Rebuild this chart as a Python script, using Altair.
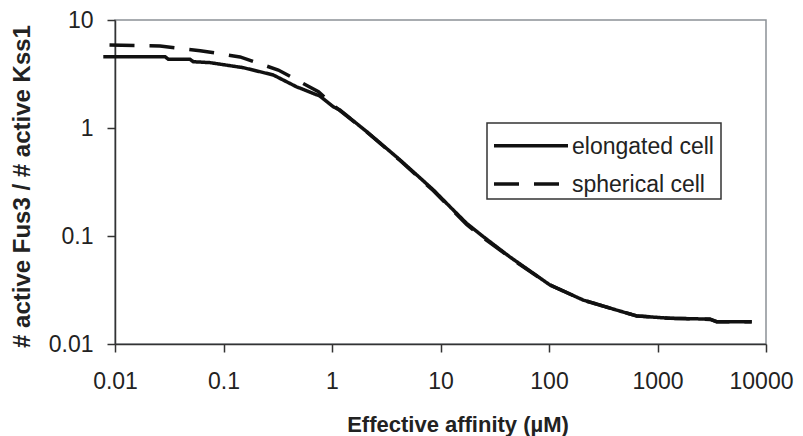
import altair as alt
import pandas as pd

# ---- data ----
series_names = ["elongated cell", "spherical cell"]

elong_x = [0.0078, 0.0289, 0.031, 0.049, 0.0527, 0.075, 0.152, 0.287, 0.47, 0.77,
           1.03, 1.18, 2.09, 4.24, 8.6, 12.2, 17.4, 24.8, 43.6, 50.4, 102, 207,
           420, 643, 1303, 3048, 3512, 7384]
elong_y = [4.58, 4.58, 4.33, 4.33, 4.11, 4.03, 3.62, 3.10, 2.41, 1.98,
           1.57, 1.47, 0.925, 0.506, 0.267, 0.187, 0.131, 0.0986, 0.064, 0.0578, 0.0352, 0.0255,
           0.0206, 0.0182, 0.0173, 0.0170, 0.0161, 0.0161]

spher_x = [0.0089, 0.026, 0.061, 0.142, 0.32, 0.75, 1.03, 2.09, 4.24, 8.6, 17.4,
           24.8, 50.4, 102, 207, 420, 643, 1303, 3048, 3512, 7384]
spher_y = [5.87, 5.75, 5.2, 4.55, 3.44, 2.17, 1.62, 0.92, 0.50, 0.262, 0.128,
           0.096, 0.057, 0.0352, 0.0255, 0.0206, 0.0182, 0.0173, 0.0169, 0.0161, 0.0161]

x_ticks = [0.01, 0.1, 1, 10, 100, 1000, 10000]
y_ticks = [0.01, 0.1, 1, 10]

rows = []
for i, (x, y) in enumerate(zip(elong_x, elong_y)):
    rows.append({"affinity": x, "ratio": y, "cell": series_names[0], "order": i})
for i, (x, y) in enumerate(zip(spher_x, spher_y)):
    rows.append({"affinity": x, "ratio": y, "cell": series_names[1], "order": i})
df = pd.DataFrame(rows)

legend_df = pd.DataFrame({"cell": series_names})

FONT = "Liberation Sans"
INK = "#111111"
DASHES = [[1, 0], [25, 15]]
label_expr = "datum.value >= 1 ? format(datum.value, '.0f') : format(datum.value, '.2~f')"

lines = alt.Chart(df).mark_line(color=INK, strokeWidth=3.5, clip=False).encode(
    x=alt.X(
        "affinity:Q",
        scale=alt.Scale(type="log", domain=[0.01, 10000], nice=False),
        axis=alt.Axis(
            values=x_ticks, labelExpr=label_expr, title="Effective affinity (µM)",
            grid=False, tickSize=8, labelPadding=18, labelFlush=False,
            labelOffset={"expr": "datum.value >= 10000 ? -5 : 0"},
            labelFontSize=23, titleFontSize=22, titleFontWeight="bold",
            titleX=342.5, titleY=87, titleAlign="center", titleBaseline="alphabetic",
            titleAngle=0,
        ),
    ),
    y=alt.Y(
        "ratio:Q",
        scale=alt.Scale(type="log", domain=[0.01, 10], nice=False),
        axis=alt.Axis(
            values=y_ticks, labelExpr=label_expr, title="# active Fus3 / # active Kss1",
            grid=False, tickSize=8, labelPadding=14, labelFlush=False,
            labelFontSize=23, titleFontSize=24, titleFontWeight="bold",
            titleX=-86, titleY=166, titleAlign="center", titleBaseline="alphabetic",
            titleAngle=270,
        ),
    ),
    strokeDash=alt.StrokeDash(
        "cell:N",
        scale=alt.Scale(domain=series_names, range=DASHES),
        legend=None,
    ),
    order="order:Q",
)

# ---- hand-built legend (box, line samples, labels) ----
legend_box = alt.Chart(legend_df).transform_filter(
    alt.datum.cell == series_names[0]
).mark_rect(fill="white", stroke="#333333", strokeWidth=1.5).encode(
    x=alt.value(372), x2=alt.value(606), y=alt.value(103), y2=alt.value(179)
)

row_y = [125.7, 164]
legend_layers = [legend_box]
for i, name in enumerate(series_names):
    base = alt.Chart(legend_df).transform_filter(alt.datum.cell == name)
    legend_layers.append(
        base.mark_rule(color=INK, strokeWidth=3.5, strokeDash=DASHES[i]).encode(
            x=alt.value(379), x2=alt.value(453), y=alt.value(row_y[i])
        )
    )
    legend_layers.append(
        base.mark_text(align="left", baseline="middle", font=FONT, fontSize=23,
                       color="#222222").encode(
            x=alt.value(457), y=alt.value(row_y[i] + 1), text="cell:N"
        )
    )

chart = alt.layer(lines, *legend_layers).properties(
    width=651, height=324,
    padding={"left": 107, "top": 12, "right": 29, "bottom": 92},
    autosize=alt.AutoSizeParams(type="none"),
).configure_view(
    stroke="#8c9196", strokeWidth=1.5
).configure_axis(
    labelFont=FONT, titleFont=FONT, labelColor="#222222", titleColor="#222222",
    domainColor="#333333", tickColor="#333333", domainWidth=1.5, tickWidth=1.5,
)

chart.save("out.html", embed_options={"renderer": "svg", "actions": False})
